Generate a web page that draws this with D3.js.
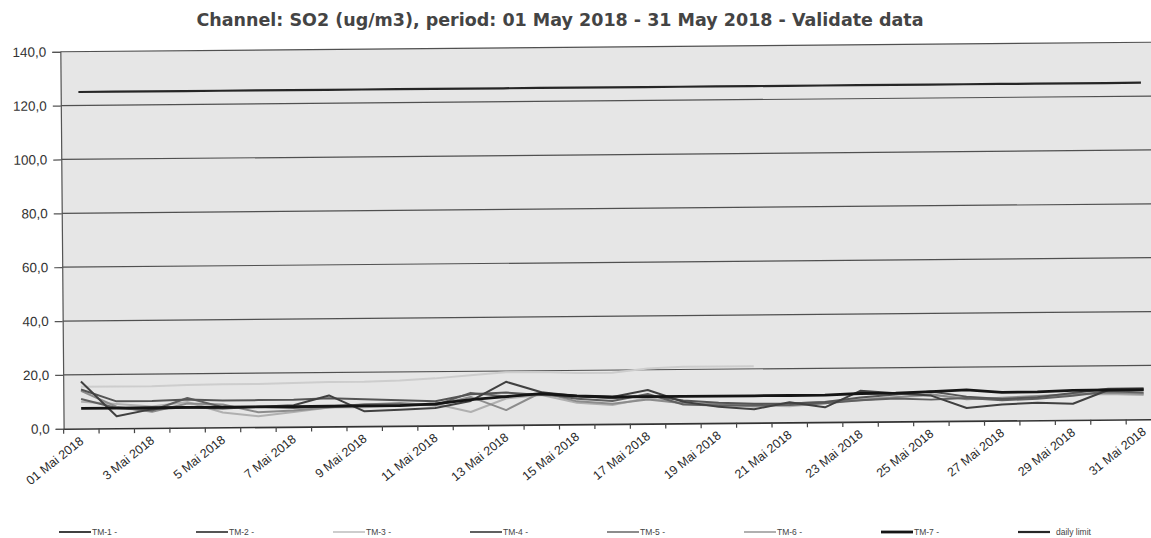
<!DOCTYPE html>
<html><head><meta charset="utf-8">
<script src="https://cdn.jsdelivr.net/npm/d3@7"></script>
<style>body{margin:0;background:#fff}svg{display:block}</style>
</head><body><svg id="c" width="1151" height="538"></svg>
<script>
// ---- data ----
const days = [1,2,3,4,5,6,7,8,9,10,11,12,13,14,15,16,17,18,19,20,21,22,23,24,25,26,27,28,29,30,31];
const dayLabels = ["01 Mai 2018","2 Mai 2018","3 Mai 2018","4 Mai 2018","5 Mai 2018","6 Mai 2018","7 Mai 2018","8 Mai 2018","9 Mai 2018","10 Mai 2018","11 Mai 2018","12 Mai 2018","13 Mai 2018","14 Mai 2018","15 Mai 2018","16 Mai 2018","17 Mai 2018","18 Mai 2018","19 Mai 2018","20 Mai 2018","21 Mai 2018","22 Mai 2018","23 Mai 2018","24 Mai 2018","25 Mai 2018","26 Mai 2018","27 Mai 2018","28 Mai 2018","29 Mai 2018","30 Mai 2018","31 Mai 2018"];
const yTickValues = [0,20,40,60,80,100,120,140];
const seriesNames = ["TM-1 -","TM-2 -","TM-3 -","TM-4 -","TM-5 -","TM-6 -","TM-7 -","daily limit"];
const tm1 = [17.5,4.5,7.0,7.5,7.0,7.5,8.0,11.5,5.5,6.0,6.5,9.0,16.0,12.0,10.5,10.0,12.5,8.0,6.0,5.0,7.5,5.5,11.5,10.5,9.5,4.8,6.0,6.5,6.0,11.0,11.0];
const tm2 = [14.5,10.0,10.0,10.5,10.0,10.0,10.0,10.5,10.0,9.5,9.0,11.5,12.0,11.0,10.5,9.5,10.5,8.5,7.5,7.0,7.0,7.5,9.0,10.0,11.0,9.0,8.0,8.5,10.0,11.5,11.5];
const tm3 = [15.5,15.5,15.5,15.8,16.0,16.0,16.2,16.5,16.5,16.8,17.5,18.5,19.5,19.5,19.0,19.0,20.5,21.0,21.0,21.0,null,null,null,null,null,null,null,null,null,null,null];
const tm4 = [11.0,7.5,6.5,11.0,7.5,7.5,7.0,7.5,8.0,8.0,7.5,12.0,10.5,11.5,9.5,8.5,11.0,7.0,6.5,6.5,6.5,7.0,8.0,8.5,8.0,8.5,7.5,8.0,9.0,10.5,10.0];
const tm5 = [14.0,8.0,6.0,9.0,8.5,5.5,6.0,7.0,8.0,8.5,7.5,10.5,5.5,12.0,8.5,7.5,9.0,7.5,7.0,6.0,7.0,7.5,8.0,9.0,10.0,8.0,8.5,9.0,9.5,10.0,9.5];
const tm6 = [10.0,9.0,8.0,9.5,5.5,4.0,5.5,7.0,7.0,7.5,8.0,4.9,9.8,11.0,8.0,7.0,9.5,7.5,6.5,6.5,6.0,7.0,8.5,9.0,9.5,8.5,8.0,8.5,9.5,9.5,9.0];
const tm7 = [7.5,7.5,7.5,7.5,7.5,7.5,7.5,7.5,7.5,7.5,8.0,9.5,10.5,11.5,10.5,10.0,10.0,10.0,10.0,10.0,10.0,10.0,10.5,10.5,11.0,11.5,10.5,10.5,11.0,11.0,11.0];
const dailyLimit = [125,125,125,125,125,125,125,125,125,125,125,125,125,125,125,125,125,125,125,125,125,125,125,125,125,125,125,125,125,125,125];

// ---- styling ----
const series = [
  {name: seriesNames[2], values: tm3, color: "#cdcdcd", w: 2},
  {name: seriesNames[5], values: tm6, color: "#b0b0b0", w: 2},
  {name: seriesNames[4], values: tm5, color: "#8c8c8c", w: 2},
  {name: seriesNames[3], values: tm4, color: "#606060", w: 2},
  {name: seriesNames[1], values: tm2, color: "#555555", w: 2},
  {name: seriesNames[0], values: tm1, color: "#404040", w: 2},
  {name: seriesNames[6], values: tm7, color: "#151515", w: 2.8},
  {name: seriesNames[7], values: dailyLimit, color: "#262626", w: 2.2}
];
const legendStyle = {
  "TM-1 -": ["#404040",2], "TM-2 -": ["#555555",2], "TM-3 -": ["#cdcdcd",2], "TM-4 -": ["#606060",2],
  "TM-5 -": ["#8c8c8c",2], "TM-6 -": ["#b0b0b0",2], "TM-7 -": ["#151515",2.8], "daily limit": ["#262626",2.2]
};

const svg = d3.select("#c");
svg.append("rect").attr("width",1151).attr("height",538).attr("fill","#fff");

// title
svg.append("text").attr("x",560).attr("y",26).attr("text-anchor","middle")
  .attr("font-family","DejaVu Sans, Verdana, sans-serif").attr("font-weight","bold")
  .attr("font-size",17.5).attr("fill","#444")
  .text("Channel: SO2 (ug/m3), period: 01 May 2018 - 31 May 2018 - Validate data");

const plotLeft = 62, plotRight = 1160, plotTop = 47, plotBottom = 424;
const x = d3.scaleBand().domain(days).range([plotLeft, plotRight]).paddingInner(0).paddingOuter(0);
const y = d3.scaleLinear().domain([0,140]).range([plotBottom, plotTop]);
const cx = d => x(d) + x.bandwidth()/2;

const g = svg.append("g").attr("transform","rotate(-0.5,606,240)");

g.append("rect").attr("x",plotLeft).attr("y",y(140)).attr("width",plotRight-plotLeft)
  .attr("height",y(0)-y(140)).attr("fill","#e6e6e6");

// gridlines
g.append("g").selectAll("line").data(yTickValues.filter(v=>v>0)).join("line")
  .attr("x1",plotLeft).attr("x2",plotRight).attr("y1",d=>y(d)).attr("y2",d=>y(d))
  .attr("stroke","#505050").attr("stroke-width",1.2);

// y axis
const yAxis = d3.axisLeft(y).tickValues(yTickValues).tickSize(8).tickPadding(6)
  .tickFormat(d => d3.format(".1f")(d).replace(".", ","));
const ya = g.append("g").attr("transform",`translate(${plotLeft},0)`).call(yAxis);
ya.select(".domain").attr("stroke","#555").attr("stroke-width",1.2);
ya.selectAll(".tick line").attr("stroke","#555").attr("stroke-width",1.2);
ya.selectAll("text").attr("font-family","Liberation Sans, Arial, sans-serif").attr("font-size",13.5).attr("fill","#333");

// x axis
const xAxis = d3.axisBottom(x).tickSize(0).tickFormat((d,i)=> (i%2===0 ? dayLabels[i] : ""));
const xa = g.append("g").attr("transform",`translate(0,${plotBottom})`).call(xAxis);
xa.select(".domain").attr("stroke","#333").attr("stroke-width",1.6);
xa.selectAll(".tick text")
  .attr("font-family","Liberation Sans, Arial, sans-serif").attr("font-size",12.5).attr("fill","#2a2a2a")
  .attr("text-anchor","end").attr("dy",0).attr("y",0)
  .attr("transform","translate(3,14) rotate(-38)");
// boundary ticks
xa.append("g").selectAll("line").data(days).join("line")
  .attr("x1",d=>x(d)).attr("x2",d=>x(d)).attr("y1",0).attr("y2",5)
  .attr("stroke","#444").attr("stroke-width",1.2);

// lines
const line = d3.line().defined(d => d.v != null).x(d => cx(d.d)).y(d => y(d.v));
g.append("g").selectAll("path").data(series).join("path")
  .attr("d", s => line(days.map((d,i)=>({d, v: s.values[i]}))))
  .attr("fill","none").attr("stroke",s=>s.color).attr("stroke-width",s=>s.w)
  .attr("stroke-linejoin","round");

// legend
const lg = svg.append("g").selectAll("g").data(seriesNames).join("g")
  .attr("transform",(d,i)=>`translate(${59 + i*137},532)`);
lg.append("line").attr("x1",0).attr("x2",32).attr("y1",0).attr("y2",0)
  .attr("stroke",d=>legendStyle[d][0]).attr("stroke-width",d=>legendStyle[d][1]);
lg.append("text").attr("x",d=> d==="daily limit" ? 38 : 33).attr("y",3)
  .attr("font-family","Liberation Sans, Arial, sans-serif").attr("font-size",8.5).attr("fill","#444")
  .text(d=>d);
</script></body></html>
